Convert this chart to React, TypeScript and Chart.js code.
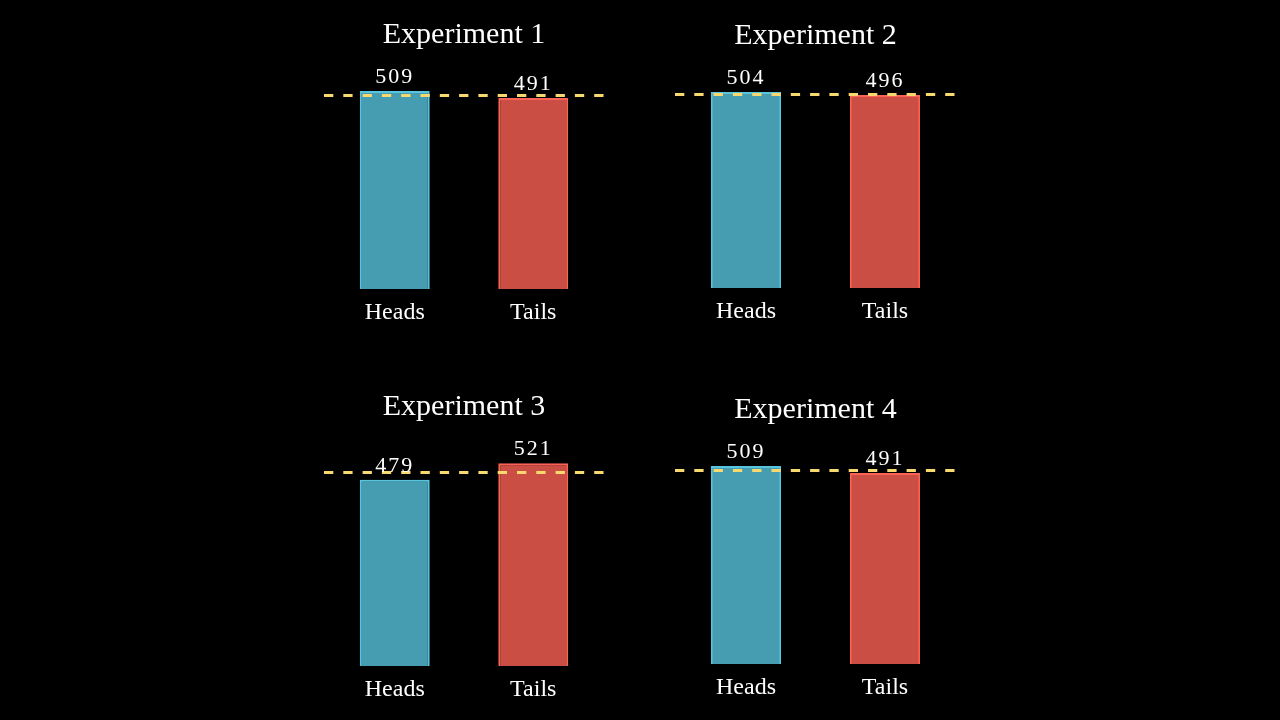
import React, { useEffect, useRef } from "react";
import { Chart, registerables } from "chart.js";

Chart.register(...registerables);

const categories = ["Heads", "Tails"];
const experimentTitles = ["Experiment 1", "Experiment 2", "Experiment 3", "Experiment 4"];
const headsCounts = [509, 504, 479, 509];
const tailsCounts = [491, 496, 521, 491];
const expectedCount = 500;
const yMax = 600;

const FONT = '"Liberation Serif", "Times New Roman", serif';
const BLUE = "#58C4DD";
const RED = "#FC6255";
const YELLOW = "#F7D96F";

// layout of each panel (chart-area edges, bottom, title centre)
const panels = [
  { left: 325.5, right: 602.5, bottom: 289, titleY: 35 },
  { left: 676.5, right: 954.5, bottom: 288, titleY: 36 },
  { left: 325.5, right: 602.5, bottom: 666, titleY: 407 },
  { left: 676.5, right: 954.5, bottom: 664, titleY: 410 },
];

const PX_PER_UNIT = 0.389;
const TITLE_SIZE = 30;
const TICK_SIZE = 24;
const TICK_PAD = 9;

function Panel({ index }: { index: number }) {
  const ref = useRef<HTMLCanvasElement | null>(null);
  const p = panels[index];
  const L = Math.floor(p.left) - 15;
  const W = 300;
  const T = p.titleY - 30;
  const titlePadTop = 30 - (TITLE_SIZE * 1.2) / 2;
  const chartTop = p.bottom - yMax * PX_PER_UNIT;
  const titlePadBottom = chartTop - (T + titlePadTop + TITLE_SIZE * 1.2);
  const axisH = TICK_SIZE * 1.2 + TICK_PAD * 2;
  const H = Math.ceil(p.bottom - T + axisH + 3);
  const padBottom = H - (p.bottom - T) - axisH;

  useEffect(() => {
    if (!ref.current) return;
    const overlay = {
      id: "overlay" + index,
      afterDatasetsDraw(chart: any) {
        const ctx = chart.ctx;
        const area = chart.chartArea;
        const y = Math.floor(chart.scales.y.getPixelForValue(expectedCount)) + 1.5;
        ctx.save();
        ctx.strokeStyle = YELLOW;
        ctx.lineWidth = 3;
        ctx.setLineDash([9.3, 10]);
        ctx.beginPath();
        ctx.moveTo(area.left - 1.5, y);
        ctx.lineTo(area.right + 1, y);
        ctx.stroke();
        ctx.setLineDash([]);
        const meta = chart.getDatasetMeta(0);
        const values = chart.data.datasets[0].data;
        ctx.fillStyle = "#FFFFFF";
        ctx.font = `22px ${FONT}`;
        (ctx as any).letterSpacing = "2px";
        ctx.textAlign = "center";
        ctx.textBaseline = "alphabetic";
        meta.data.forEach((bar: any, i: number) => {
          ctx.fillText(String(values[i]), bar.x, bar.y - 8);
        });
        ctx.restore();
      },
    };
    const chart = new Chart(ref.current, {
      type: "bar",
      data: {
        labels: categories,
        datasets: [
          {
            data: [headsCounts[index], tailsCounts[index]],
            backgroundColor: ["rgba(88,196,221,0.8)", "rgba(252,98,85,0.8)"],
            borderColor: [BLUE, RED],
            borderWidth: 2,
            barPercentage: 0.505,
            categoryPercentage: 1,
          },
        ],
      },
      options: {
        responsive: false,
        animation: false,
        layout: {
          padding: {
            left: p.left - L,
            right: W - (p.right - L),
            top: 0,
            bottom: padBottom,
          },
        },
        scales: {
          x: {
            grid: { display: false, drawTicks: false },
            border: { display: false },
            ticks: {
              color: "#FFFFFF",
              padding: TICK_PAD,
              font: { family: FONT, size: TICK_SIZE },
            },
          },
          y: { display: false, min: 0, max: yMax },
        },
        plugins: {
          legend: { display: false },
          tooltip: { enabled: false },
          title: {
            display: true,
            text: experimentTitles[index],
            color: "#FFFFFF",
            font: { family: FONT, size: TITLE_SIZE, weight: "normal" },
            padding: { top: titlePadTop, bottom: titlePadBottom },
          },
        },
      },
      plugins: [overlay],
    });
    return () => chart.destroy();
  }, [index]);

  return (
    <canvas
      ref={ref}
      width={W}
      height={H}
      style={{ position: "absolute", left: L, top: T, width: W, height: H }}
    />
  );
}

export default function App() {
  return (
    <div
      style={{
        position: "fixed",
        left: 0,
        top: 0,
        width: 1280,
        height: 720,
        background: "#000000",
        overflow: "hidden",
      }}
    >
      {panels.map((_, i) => (
        <Panel key={i} index={i} />
      ))}
    </div>
  );
}
